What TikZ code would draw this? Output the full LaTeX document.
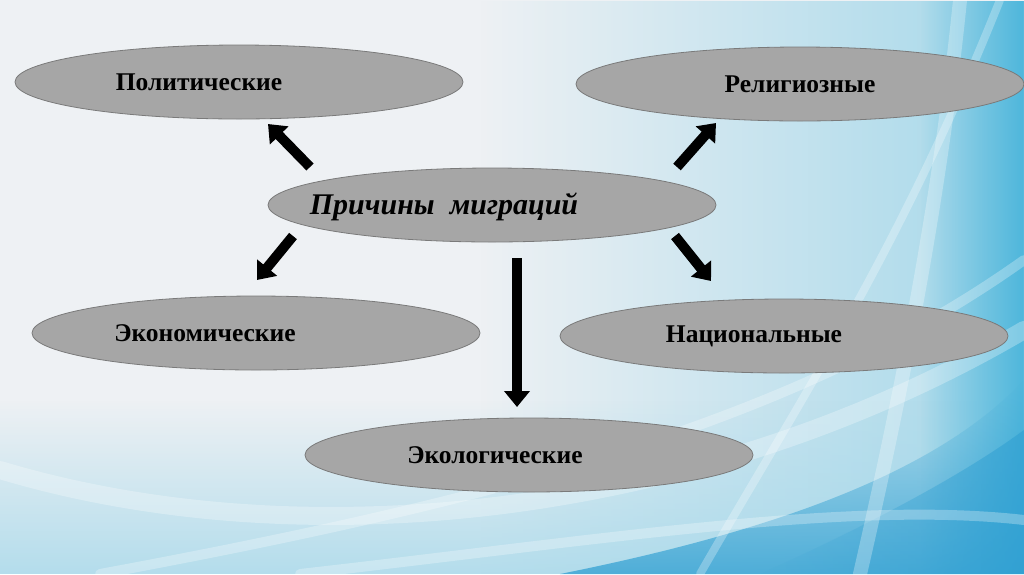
\documentclass[tikz,border=0pt]{standalone}
\usepackage{fontspec}
\setmainfont{Liberation Serif}
\usetikzlibrary{arrows.meta,shapes.geometric,fadings}
\definecolor{ellfill}{HTML}{A6A6A6}
\definecolor{elldraw}{HTML}{7A7A7A}
\definecolor{bgbase}{HTML}{EEF1F4}
\definecolor{bgblue}{HTML}{A5D8EA}
\definecolor{bgdeep}{HTML}{2F9FD2}
\definecolor{bgcyan}{HTML}{45B3DA}
\begin{document}
\begin{tikzpicture}[x=1pt,y=-1pt,
  oval/.style={ellipse, fill=ellfill, draw=elldraw, line width=0.8pt, inner sep=0pt,
    minimum width=448pt, minimum height=74pt},
  lbl/.style={font=\fontsize{25.5}{30}\selectfont\bfseries, text=black, inner sep=0pt},
  lbli/.style={font=\fontsize{30}{34}\selectfont\bfseries\itshape, text=black, inner sep=0pt},
  blk/.style={line width=10pt, black, -{Triangle[width=25pt,length=16pt]}},
  streak/.style={white, opacity=0.28, line cap=round}
]
\useasboundingbox (0,0) rectangle (1024,574);
% background
\fill[bgbase] (0,0) rectangle (1024,574);
\fill[bgblue, path fading=west] (480,0) rectangle (1024,574);
\fill[bgblue, opacity=0.8, path fading=north] (0,400) rectangle (1024,574);
\fill[bgcyan, opacity=0.9, path fading=west] (920,0) rectangle (1024,574);
\fill[bgdeep, opacity=0.75, path fading=north] (560,574) .. controls (780,530) and (940,470) .. (1024,380) -- (1024,574) -- cycle;
\fill[bgdeep, opacity=0.6, path fading=west] (760,574) .. controls (880,520) and (970,470) .. (1024,430) -- (1024,574) -- cycle;
\draw[streak, line width=18pt] (0,470) .. controls (300,560) and (700,520) .. (1024,330);
\draw[streak, line width=10pt] (100,574) .. controls (500,500) and (800,420) .. (1024,260);
\draw[streak, line width=14pt] (860,574) .. controls (900,400) and (940,200) .. (960,0);
\draw[streak, line width=8pt] (700,574) .. controls (800,400) and (900,250) .. (1000,0);
\draw[streak, line width=10pt] (300,574) .. controls (600,540) and (850,500) .. (1024,520);
% ellipses
\node[oval] (pol) at (239,82) {};
\node[oval] (rel) at (800,84) {};
\node[oval] (cause) at (492,205) {};
\node[oval] (eco) at (256,333) {};
\node[oval] (nat) at (784,336) {};
\node[oval] (env) at (529,455) {};
% texts
\node[lbl] (polt) at (199,82) {Политические};
\node[lbl] (relt) at (800,84) {Религиозные};
\node[lbli] (causet) at (444,207) {Причины\ \ миграций};
\node[lbl] (ecot) at (205,333) {Экономические};
\node[lbl] (natt) at (754,336) {Национальные};
\node[lbl] (envt) at (495,455) {Экологические};
% arrow ends
\coordinate (a1s) at (310,167);
\coordinate (a1e) at (268,124);
\coordinate (a2s) at (677,167);
\coordinate (a2e) at (716,123);
\coordinate (a3s) at (293,236);
\coordinate (a3e) at (257,280);
\coordinate (a4s) at (675,236);
\coordinate (a4e) at (711,281);
\coordinate (a5s) at (517,258);
\coordinate (a5e) at (517,407);
\draw[blk] (a1s) -- (a1e);
\draw[blk] (a2s) -- (a2e);
\draw[blk] (a3s) -- (a3e);
\draw[blk] (a4s) -- (a4e);
\draw[blk] (a5s) -- (a5e);
\end{tikzpicture}
\end{document}
